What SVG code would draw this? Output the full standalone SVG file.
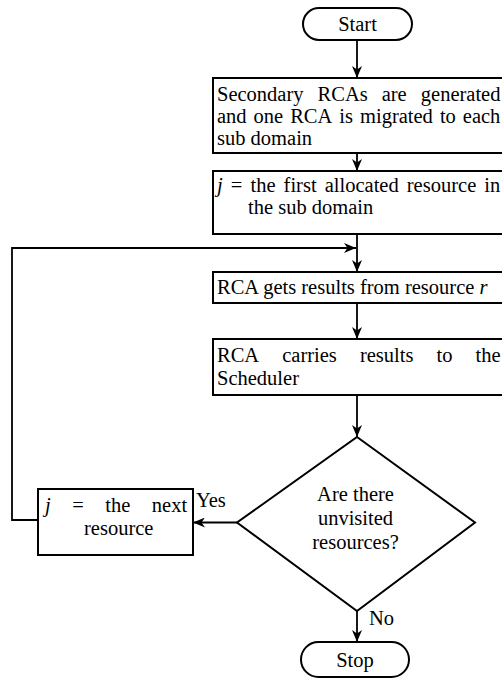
<svg xmlns="http://www.w3.org/2000/svg" width="502" height="679" viewBox="0 0 502 679">
<defs>
<style>
text{font-family:"Liberation Serif","Times New Roman",serif;font-size:20.5px;fill:#000}
.c{text-anchor:middle}
.i{font-style:italic}
.n{fill:#fff;stroke:#000;stroke-width:2}
.e{fill:none;stroke:#000;stroke-width:1.8}
</style>
<marker id="ah" viewBox="0 0 12 10" markerWidth="12" markerHeight="10" refX="12" refY="5" orient="auto" markerUnits="userSpaceOnUse">
<path d="M0,0 L12,5 L0,10 L3.5,5 z" fill="#000"/>
</marker>
</defs>
<rect width="502" height="679" fill="#fff"/>
<g id="connectors">
<line class="e" x1="357" y1="40" x2="357" y2="78" marker-end="url(#ah)"/>
<line class="e" x1="357" y1="153" x2="357" y2="171" marker-end="url(#ah)"/>
<line class="e" x1="357" y1="234" x2="357" y2="272" marker-end="url(#ah)"/>
<polyline class="e" points="38,520 12,520 12,248 356,248" marker-end="url(#ah)"/>
<line class="e" x1="357" y1="303" x2="357" y2="339" marker-end="url(#ah)"/>
<line class="e" x1="357" y1="395" x2="357" y2="437" marker-end="url(#ah)"/>
<line class="e" x1="237" y1="522.5" x2="193" y2="522.5" marker-end="url(#ah)"/>
<line class="e" x1="357" y1="611" x2="357" y2="642" marker-end="url(#ah)"/>
</g>
<g id="start">
<rect class="n" x="303" y="8" width="109" height="32" rx="16"/>
<text class="c" x="357.5" y="31">Start</text>
</g>
<g id="generate">
<rect class="n" x="213" y="78" width="292" height="75"/>
<text y="101"><tspan x="217">Secondary</tspan> <tspan x="317.6">RCAs</tspan> <tspan x="381.7">are</tspan> <tspan x="420.8">generated</tspan></text>
<text y="123"><tspan x="217">and</tspan> <tspan x="253.6">one</tspan> <tspan x="290.2">RCA</tspan> <tspan x="339.3">is</tspan> <tspan x="360">migrated</tspan> <tspan x="439.9">to</tspan> <tspan x="462.8">each</tspan></text>
<text x="217" y="145">sub domain</text>
</g>
<g id="first">
<rect class="n" x="213" y="171" width="292" height="63"/>
<text y="192"><tspan x="217" class="i">j</tspan> <tspan x="230.8">=</tspan> <tspan x="250.5">the</tspan> <tspan x="283.6">first</tspan> <tspan x="324.7">allocated</tspan> <tspan x="406.8">resource</tspan> <tspan x="484.3">in</tspan></text>
<text x="248" y="214">the sub domain</text>
</g>
<g id="gets">
<rect class="n" x="213" y="272" width="292" height="31"/>
<text x="217" y="294">RCA gets results from resource <tspan class="i">r</tspan></text>
</g>
<g id="carries">
<rect class="n" x="213" y="339" width="292" height="56"/>
<text y="362"><tspan x="217">RCA</tspan> <tspan x="282.2">carries</tspan> <tspan x="359.9">results</tspan> <tspan x="436.5">to</tspan> <tspan x="475.5">the</tspan></text>
<text x="217" y="385">Scheduler</text>
</g>
<g id="decision">
<polygon class="n" points="357,437 475,522.5 357,611 237,522.5"/>
<text class="c" x="355.5" y="501">Are there</text>
<text class="c" x="355.5" y="525">unvisited</text>
<text class="c" x="355.5" y="549">resources?</text>
</g>
<g id="next">
<rect class="n" x="38" y="489" width="155" height="66"/>
<text y="512"><tspan x="45" class="i">j</tspan> <tspan x="72.2">=</tspan> <tspan x="105.3">the</tspan> <tspan x="151.8">next</tspan></text>
<text x="84" y="535">resource</text>
</g>
<g id="stop">
<rect class="n" x="301" y="642" width="108" height="35" rx="17.5"/>
<text class="c" x="355" y="667">Stop</text>
</g>
<g id="labels">
<text x="196" y="507">Yes</text>
<text x="369" y="625">No</text>
</g>
</svg>
